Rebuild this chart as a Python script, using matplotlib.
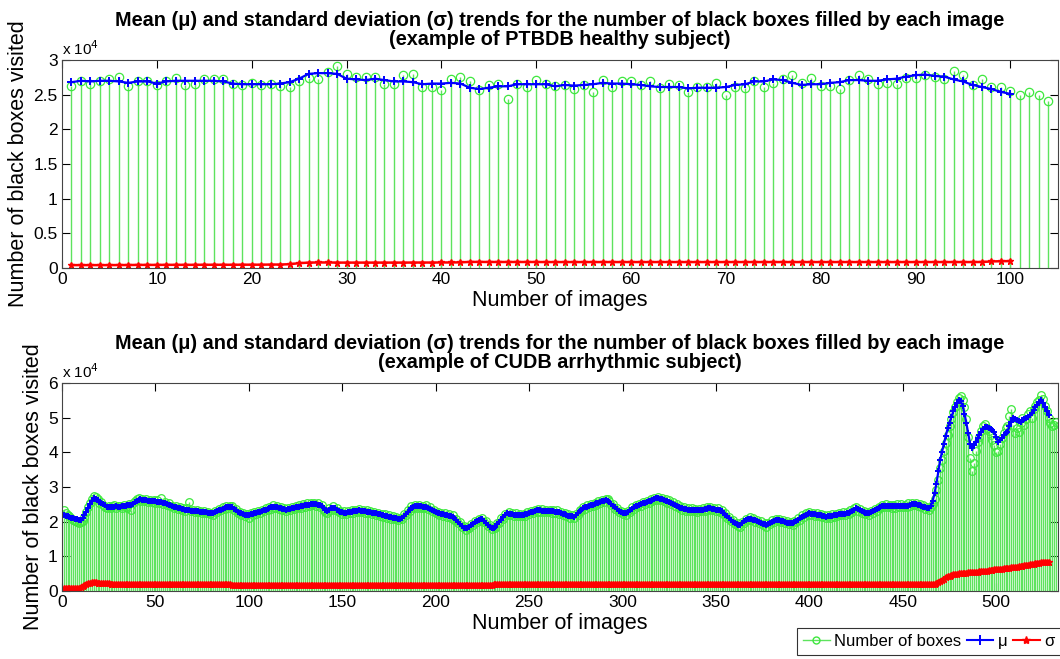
import numpy as np
import matplotlib
matplotlib.use("Agg")
import matplotlib.pyplot as plt
from matplotlib.lines import Line2D

# ==============================
# DATA (values in units of 10^4 boxes)
# ==============================
# PTBDB healthy subject
ptb_boxes = [
    2.62, 2.69, 2.65, 2.69, 2.73, 2.75, 2.62, 2.69, 2.69, 2.64,
    2.69, 2.74, 2.64, 2.65, 2.73, 2.73, 2.73, 2.65, 2.64, 2.67,
    2.64, 2.66, 2.63, 2.61, 2.69, 2.74, 2.72, 2.82, 2.91, 2.80,
    2.76, 2.76, 2.76, 2.66, 2.65, 2.78, 2.80, 2.61, 2.61, 2.57,
    2.73, 2.75, 2.69, 2.57, 2.64, 2.65, 2.44, 2.65, 2.61, 2.71,
    2.66, 2.63, 2.64, 2.58, 2.64, 2.54, 2.71, 2.61, 2.69, 2.69,
    2.64, 2.69, 2.59, 2.66, 2.64, 2.54, 2.61, 2.61, 2.67, 2.50,
    2.61, 2.60, 2.69, 2.61, 2.67, 2.72, 2.79, 2.67, 2.74, 2.62,
    2.62, 2.58, 2.71, 2.78, 2.72, 2.66, 2.67, 2.66, 2.74, 2.74,
    2.78, 2.76, 2.73, 2.84, 2.78, 2.64, 2.72, 2.61, 2.61, 2.55,
    2.49, 2.54, 2.50, 2.41,
]
ptb_mu = [
    2.68, 2.70, 2.69, 2.70, 2.70, 2.69, 2.67, 2.69, 2.69, 2.66,
    2.69, 2.70, 2.70, 2.70, 2.70, 2.70, 2.69, 2.66, 2.65, 2.65,
    2.65, 2.65, 2.66, 2.68, 2.73, 2.80, 2.81, 2.81, 2.80, 2.73,
    2.72, 2.71, 2.73, 2.71, 2.69, 2.69, 2.68, 2.65, 2.66, 2.66,
    2.67, 2.66, 2.60, 2.58, 2.60, 2.62, 2.62, 2.65, 2.65, 2.65,
    2.65, 2.62, 2.64, 2.63, 2.64, 2.65, 2.67, 2.66, 2.66, 2.65,
    2.64, 2.62, 2.61, 2.61, 2.61, 2.59, 2.60, 2.60, 2.60, 2.61,
    2.64, 2.65, 2.69, 2.69, 2.72, 2.71, 2.67, 2.64, 2.65, 2.65,
    2.67, 2.68, 2.71, 2.71, 2.70, 2.70, 2.72, 2.73, 2.76, 2.78,
    2.79, 2.77, 2.76, 2.72, 2.69, 2.64, 2.61, 2.58, 2.54, 2.51,
]
ptb_sigma = [
    0.042, 0.042, 0.042, 0.042, 0.042, 0.043, 0.043, 0.045, 0.045, 0.045,
    0.046, 0.046, 0.046, 0.046, 0.047, 0.047, 0.047, 0.047, 0.048, 0.048,
    0.048, 0.050, 0.050, 0.055, 0.070, 0.078, 0.080, 0.080, 0.078, 0.078,
    0.078, 0.078, 0.078, 0.078, 0.078, 0.078, 0.079, 0.079, 0.079, 0.080,
    0.080, 0.082, 0.088, 0.088, 0.087, 0.087, 0.087, 0.087, 0.087, 0.087,
    0.086, 0.086, 0.086, 0.086, 0.086, 0.086, 0.086, 0.086, 0.086, 0.086,
    0.086, 0.086, 0.086, 0.086, 0.086, 0.086, 0.086, 0.086, 0.086, 0.086,
    0.086, 0.086, 0.086, 0.086, 0.086, 0.086, 0.086, 0.086, 0.086, 0.086,
    0.086, 0.086, 0.086, 0.086, 0.086, 0.086, 0.086, 0.086, 0.086, 0.086,
    0.086, 0.086, 0.086, 0.086, 0.086, 0.086, 0.087, 0.095, 0.098, 0.100,
]

# CUDB arrhythmic subject
cudb_boxes = [
    2.33, 2.24, 2.18, 2.16, 2.10, 2.06, 2.03, 1.99, 1.97, 1.98,
    2.02, 2.14, 2.27, 2.42, 2.55, 2.66, 2.73, 2.70, 2.64, 2.55,
    2.57, 2.47, 2.41, 2.38, 2.45, 2.40, 2.46, 2.49, 2.40, 2.45,
    2.46, 2.40, 2.48, 2.43, 2.38, 2.52, 2.33, 2.55, 2.60, 2.66,
    2.68, 2.61, 2.66, 2.59, 2.64, 2.57, 2.62, 2.56, 2.63, 2.55,
    2.62, 2.54, 2.67, 2.52, 2.56, 2.48, 2.53, 2.44, 2.46, 2.40,
    2.45, 2.36, 2.41, 2.35, 2.39, 2.32, 2.38, 2.57, 2.30, 2.34,
    2.28, 2.33, 2.27, 2.31, 2.25, 2.30, 2.24, 2.28, 2.21, 2.26,
    2.20, 2.30, 2.27, 2.37, 2.33, 2.41, 2.36, 2.45, 2.40, 2.46,
    2.44, 2.33, 2.36, 2.25, 2.29, 2.20, 2.25, 2.16, 2.21, 2.12,
    2.24, 2.19, 2.27, 2.22, 2.31, 2.25, 2.34, 2.30, 2.38, 2.33,
    2.43, 2.37, 2.48, 2.39, 2.45, 2.36, 2.43, 2.33, 2.40, 2.31,
    2.39, 2.33, 2.42, 2.36, 2.45, 2.38, 2.47, 2.40, 2.50, 2.43,
    2.53, 2.45, 2.55, 2.47, 2.54, 2.46, 2.53, 2.42, 2.48, 2.34,
    2.28, 2.25, 2.38, 2.34, 2.44, 2.33, 2.39, 2.28, 2.32, 2.22,
    2.30, 2.22, 2.31, 2.24, 2.33, 2.26, 2.35, 2.27, 2.37, 2.28,
    2.35, 2.26, 2.33, 2.24, 2.31, 2.22, 2.29, 2.20, 2.26, 2.17,
    2.23, 2.14, 2.21, 2.11, 2.18, 2.09, 2.16, 2.07, 2.13, 2.05,
    2.12, 2.08, 2.21, 2.19, 2.33, 2.31, 2.44, 2.39, 2.48, 2.40,
    2.47, 2.40, 2.46, 2.39, 2.47, 2.36, 2.41, 2.30, 2.35, 2.24,
    2.29, 2.20, 2.26, 2.17, 2.24, 2.14, 2.21, 2.11, 2.18, 2.06,
    2.09, 1.96, 1.98, 1.84, 1.87, 1.77, 1.86, 1.82, 1.94, 1.90,
    2.02, 1.98, 2.09, 2.03, 2.11, 1.99, 2.01, 1.87, 1.90, 1.78,
    1.84, 1.81, 1.96, 1.95, 2.10, 2.09, 2.23, 2.20, 2.27, 2.18,
    2.25, 2.16, 2.24, 2.15, 2.23, 2.15, 2.23, 2.17, 2.27, 2.21,
    2.31, 2.25, 2.35, 2.29, 2.37, 2.29, 2.36, 2.28, 2.35, 2.27,
    2.34, 2.26, 2.34, 2.25, 2.33, 2.23, 2.29, 2.19, 2.25, 2.15,
    2.21, 2.12, 2.19, 2.10, 2.22, 2.20, 2.34, 2.31, 2.43, 2.37,
    2.47, 2.41, 2.51, 2.45, 2.55, 2.49, 2.59, 2.53, 2.63, 2.57,
    2.66, 2.64, 2.60, 2.47, 2.50, 2.37, 2.40, 2.27, 2.31, 2.21,
    2.28, 2.20, 2.32, 2.29, 2.41, 2.37, 2.48, 2.42, 2.52, 2.46,
    2.57, 2.51, 2.61, 2.55, 2.65, 2.59, 2.69, 2.63, 2.71, 2.62,
    2.69, 2.59, 2.65, 2.55, 2.62, 2.51, 2.56, 2.45, 2.50, 2.39,
    2.44, 2.34, 2.41, 2.32, 2.39, 2.31, 2.38, 2.30, 2.37, 2.29,
    2.37, 2.30, 2.39, 2.32, 2.41, 2.34, 2.42, 2.33, 2.40, 2.31,
    2.38, 2.29, 2.34, 2.21, 2.24, 2.11, 2.14, 2.01, 2.04, 1.92,
    1.97, 1.87, 1.86, 1.99, 1.97, 2.09, 2.04, 2.13, 2.04, 2.10,
    2.00, 2.06, 1.96, 2.01, 1.90, 1.96, 1.86, 1.97, 1.93, 2.04,
    1.98, 2.08, 2.01, 2.09, 1.99, 2.05, 1.95, 2.01, 1.92, 1.99,
    1.91, 2.02, 1.98, 2.10, 2.06, 2.18, 2.13, 2.24, 2.18, 2.28,
    2.19, 2.26, 2.17, 2.24, 2.15, 2.22, 2.13, 2.20, 2.10, 2.19,
    2.12, 2.21, 2.14, 2.23, 2.16, 2.25, 2.18, 2.27, 2.19, 2.28,
    2.22, 2.33, 2.28, 2.39, 2.42, 2.32, 2.37, 2.26, 2.31, 2.21,
    2.28, 2.20, 2.31, 2.26, 2.37, 2.32, 2.43, 2.38, 2.48, 2.41,
    2.52, 2.41, 2.49, 2.40, 2.48, 2.40, 2.52, 2.41, 2.50, 2.41,
    2.49, 2.41, 2.53, 2.44, 2.54, 2.47, 2.55, 2.45, 2.51, 2.41,
    2.47, 2.37, 2.43, 2.34, 2.41, 2.52, 2.66, 2.90, 3.20, 3.55,
    3.78, 4.05, 4.28, 4.50, 4.75, 4.95, 5.15, 5.30, 5.45, 5.58,
    5.62, 5.50, 5.30, 4.95, 4.45, 3.85, 3.45, 3.70, 4.05, 4.30,
    4.45, 4.62, 4.75, 4.82, 4.70, 4.62, 4.50, 4.35, 4.20, 4.00,
    4.05, 4.25, 4.40, 4.55, 4.70, 4.75, 5.05, 5.25, 4.80, 4.55,
    4.70, 4.60, 4.85, 5.00, 4.80, 4.95, 5.10, 5.20, 5.00, 5.25,
    5.35, 5.45, 5.50, 5.65, 5.55, 5.35, 5.20, 5.00, 4.85, 4.75,
    4.80, 4.88,
]
cudb_mu = [
    2.19, 2.17, 2.15, 2.14, 2.12, 2.10, 2.09, 2.07, 2.05, 2.04,
    2.10, 2.18, 2.29, 2.40, 2.50, 2.60, 2.67, 2.66, 2.62, 2.58,
    2.55, 2.51, 2.47, 2.43, 2.42, 2.42, 2.43, 2.43, 2.44, 2.43,
    2.43, 2.44, 2.45, 2.46, 2.47, 2.47, 2.48, 2.52, 2.56, 2.60,
    2.63, 2.64, 2.63, 2.62, 2.62, 2.61, 2.60, 2.60, 2.59, 2.59,
    2.58, 2.58, 2.57, 2.55, 2.53, 2.51, 2.49, 2.47, 2.45, 2.43,
    2.42, 2.40, 2.39, 2.37, 2.36, 2.35, 2.33, 2.33, 2.32, 2.31,
    2.31, 2.30, 2.30, 2.29, 2.28, 2.27, 2.27, 2.26, 2.25, 2.24,
    2.24, 2.27, 2.30, 2.33, 2.35, 2.37, 2.39, 2.41, 2.42, 2.43,
    2.41, 2.37, 2.33, 2.29, 2.26, 2.24, 2.22, 2.20, 2.19, 2.20,
    2.21, 2.23, 2.24, 2.26, 2.27, 2.29, 2.31, 2.33, 2.35, 2.37,
    2.39, 2.41, 2.43, 2.42, 2.41, 2.40, 2.39, 2.37, 2.36, 2.35,
    2.36, 2.37, 2.38, 2.40, 2.41, 2.42, 2.43, 2.44, 2.46, 2.47,
    2.48, 2.49, 2.50, 2.51, 2.51, 2.50, 2.49, 2.48, 2.44, 2.39,
    2.33, 2.30, 2.34, 2.38, 2.40, 2.38, 2.35, 2.32, 2.29, 2.27,
    2.26, 2.26, 2.27, 2.28, 2.29, 2.30, 2.31, 2.32, 2.33, 2.32,
    2.31, 2.30, 2.29, 2.28, 2.27, 2.26, 2.25, 2.24, 2.22, 2.21,
    2.19, 2.18, 2.17, 2.15, 2.14, 2.13, 2.12, 2.11, 2.10, 2.09,
    2.09, 2.12, 2.17, 2.23, 2.29, 2.35, 2.40, 2.43, 2.44, 2.44,
    2.44, 2.44, 2.43, 2.43, 2.43, 2.40, 2.37, 2.34, 2.31, 2.28,
    2.25, 2.24, 2.22, 2.21, 2.20, 2.18, 2.17, 2.15, 2.14, 2.10,
    2.05, 2.00, 1.94, 1.88, 1.83, 1.81, 1.83, 1.86, 1.90, 1.94,
    1.98, 2.02, 2.05, 2.07, 2.07, 2.03, 1.97, 1.91, 1.86, 1.82,
    1.81, 1.85, 1.92, 1.99, 2.06, 2.13, 2.19, 2.24, 2.23, 2.22,
    2.21, 2.20, 2.20, 2.19, 2.19, 2.19, 2.19, 2.21, 2.23, 2.25,
    2.27, 2.29, 2.31, 2.33, 2.33, 2.33, 2.32, 2.32, 2.31, 2.31,
    2.30, 2.30, 2.30, 2.29, 2.29, 2.27, 2.25, 2.23, 2.21, 2.19,
    2.17, 2.16, 2.15, 2.14, 2.18, 2.24, 2.30, 2.35, 2.39, 2.41,
    2.43, 2.45, 2.47, 2.49, 2.51, 2.53, 2.55, 2.57, 2.59, 2.61,
    2.62, 2.60, 2.56, 2.51, 2.46, 2.41, 2.36, 2.31, 2.27, 2.25,
    2.24, 2.24, 2.28, 2.33, 2.37, 2.41, 2.44, 2.46, 2.48, 2.50,
    2.53, 2.55, 2.57, 2.59, 2.61, 2.63, 2.65, 2.67, 2.67, 2.66,
    2.65, 2.63, 2.61, 2.59, 2.58, 2.55, 2.52, 2.49, 2.46, 2.43,
    2.40, 2.38, 2.37, 2.36, 2.35, 2.35, 2.34, 2.34, 2.33, 2.33,
    2.33, 2.34, 2.35, 2.36, 2.37, 2.38, 2.38, 2.37, 2.36, 2.35,
    2.34, 2.33, 2.30, 2.25, 2.20, 2.15, 2.10, 2.05, 2.00, 1.96,
    1.93, 1.91, 1.90, 1.95, 2.01, 2.05, 2.08, 2.09, 2.08, 2.06,
    2.04, 2.02, 2.00, 1.97, 1.94, 1.92, 1.90, 1.93, 1.97, 2.00,
    2.02, 2.04, 2.05, 2.05, 2.03, 2.01, 1.99, 1.97, 1.96, 1.95,
    1.95, 1.98, 2.02, 2.06, 2.10, 2.14, 2.17, 2.20, 2.22, 2.24,
    2.23, 2.22, 2.21, 2.20, 2.19, 2.18, 2.17, 2.16, 2.14, 2.15,
    2.16, 2.17, 2.18, 2.19, 2.20, 2.21, 2.22, 2.23, 2.23, 2.24,
    2.26, 2.29, 2.32, 2.35, 2.38, 2.36, 2.33, 2.30, 2.27, 2.25,
    2.24, 2.24, 2.27, 2.30, 2.33, 2.36, 2.39, 2.42, 2.44, 2.45,
    2.45, 2.45, 2.45, 2.44, 2.44, 2.44, 2.45, 2.45, 2.46, 2.45,
    2.45, 2.45, 2.46, 2.48, 2.50, 2.51, 2.51, 2.49, 2.47, 2.45,
    2.43, 2.41, 2.39, 2.38, 2.45, 2.60, 2.82, 3.10, 3.45, 3.78,
    4.02, 4.25, 4.47, 4.69, 4.86, 5.02, 5.18, 5.32, 5.42, 5.51,
    5.48, 5.35, 5.12, 4.85, 4.55, 4.25, 4.12, 4.20, 4.30, 4.40,
    4.50, 4.60, 4.68, 4.74, 4.72, 4.70, 4.67, 4.63, 4.59, 4.45,
    4.31, 4.36, 4.42, 4.50, 4.56, 4.59, 4.75, 4.88, 4.98, 4.96,
    4.93, 4.90, 4.88, 4.92, 4.97, 5.00, 5.03, 5.07, 5.14, 5.22,
    5.30, 5.38, 5.45, 5.51, 5.42, 5.30, 5.18, 5.07,
]
cudb_sigma = [
    0.08, 0.08, 0.08, 0.08, 0.08, 0.08, 0.08, 0.09, 0.10, 0.12,
    0.14, 0.17, 0.20, 0.22, 0.24, 0.25, 0.25, 0.25, 0.24, 0.24,
    0.23, 0.23, 0.22, 0.22, 0.22, 0.21, 0.21, 0.21, 0.21, 0.21,
    0.20, 0.20, 0.20, 0.20, 0.20, 0.20, 0.20, 0.20, 0.20, 0.20,
    0.20, 0.20, 0.20, 0.20, 0.20, 0.20, 0.20, 0.20, 0.20, 0.20,
    0.20, 0.20, 0.20, 0.20, 0.20, 0.20, 0.20, 0.20, 0.19, 0.19,
    0.19, 0.19, 0.19, 0.19, 0.19, 0.19, 0.19, 0.19, 0.19, 0.19,
    0.19, 0.19, 0.19, 0.19, 0.19, 0.19, 0.19, 0.19, 0.19, 0.19,
    0.19, 0.19, 0.19, 0.19, 0.19, 0.19, 0.19, 0.19, 0.19, 0.19,
    0.18, 0.18, 0.18, 0.18, 0.18, 0.18, 0.18, 0.18, 0.18, 0.18,
    0.18, 0.18, 0.18, 0.18, 0.18, 0.18, 0.18, 0.18, 0.18, 0.18,
    0.17, 0.17, 0.17, 0.17, 0.17, 0.17, 0.17, 0.17, 0.17, 0.17,
    0.17, 0.17, 0.17, 0.17, 0.17, 0.17, 0.17, 0.17, 0.17, 0.17,
    0.17, 0.17, 0.17, 0.17, 0.17, 0.17, 0.17, 0.17, 0.17, 0.17,
    0.17, 0.17, 0.17, 0.17, 0.17, 0.17, 0.17, 0.17, 0.17, 0.17,
    0.16, 0.16, 0.16, 0.16, 0.16, 0.16, 0.16, 0.16, 0.16, 0.16,
    0.16, 0.16, 0.16, 0.16, 0.16, 0.16, 0.16, 0.16, 0.16, 0.16,
    0.16, 0.16, 0.16, 0.16, 0.16, 0.16, 0.16, 0.16, 0.16, 0.16,
    0.16, 0.16, 0.16, 0.16, 0.16, 0.16, 0.16, 0.16, 0.16, 0.16,
    0.16, 0.16, 0.16, 0.16, 0.16, 0.16, 0.16, 0.16, 0.16, 0.16,
    0.16, 0.16, 0.16, 0.16, 0.16, 0.16, 0.16, 0.16, 0.16, 0.16,
    0.17, 0.17, 0.17, 0.17, 0.17, 0.18, 0.18, 0.18, 0.18, 0.18,
    0.18, 0.18, 0.18, 0.18, 0.18, 0.18, 0.18, 0.18, 0.18, 0.18,
    0.19, 0.19, 0.19, 0.19, 0.19, 0.19, 0.19, 0.19, 0.19, 0.19,
    0.19, 0.19, 0.19, 0.19, 0.19, 0.19, 0.19, 0.19, 0.19, 0.19,
    0.19, 0.19, 0.19, 0.19, 0.19, 0.19, 0.19, 0.19, 0.19, 0.19,
    0.19, 0.19, 0.19, 0.19, 0.19, 0.19, 0.19, 0.19, 0.19, 0.19,
    0.19, 0.19, 0.19, 0.19, 0.19, 0.19, 0.19, 0.19, 0.19, 0.19,
    0.19, 0.19, 0.19, 0.19, 0.19, 0.19, 0.19, 0.19, 0.19, 0.19,
    0.19, 0.19, 0.19, 0.19, 0.19, 0.19, 0.19, 0.19, 0.19, 0.19,
    0.19, 0.19, 0.19, 0.19, 0.19, 0.19, 0.19, 0.19, 0.19, 0.19,
    0.19, 0.19, 0.19, 0.19, 0.19, 0.19, 0.19, 0.19, 0.19, 0.19,
    0.19, 0.19, 0.19, 0.19, 0.19, 0.19, 0.19, 0.19, 0.19, 0.19,
    0.19, 0.19, 0.19, 0.19, 0.19, 0.19, 0.19, 0.19, 0.19, 0.19,
    0.19, 0.19, 0.19, 0.19, 0.19, 0.19, 0.19, 0.19, 0.19, 0.19,
    0.19, 0.19, 0.19, 0.19, 0.19, 0.19, 0.19, 0.19, 0.19, 0.19,
    0.19, 0.19, 0.19, 0.19, 0.19, 0.19, 0.19, 0.19, 0.19, 0.19,
    0.19, 0.19, 0.19, 0.19, 0.19, 0.19, 0.19, 0.19, 0.20, 0.20,
    0.20, 0.20, 0.20, 0.20, 0.20, 0.20, 0.20, 0.20, 0.20, 0.20,
    0.20, 0.20, 0.20, 0.20, 0.19, 0.19, 0.19, 0.19, 0.19, 0.19,
    0.19, 0.19, 0.19, 0.19, 0.19, 0.19, 0.19, 0.19, 0.19, 0.19,
    0.19, 0.19, 0.19, 0.19, 0.19, 0.19, 0.19, 0.19, 0.19, 0.19,
    0.19, 0.19, 0.19, 0.19, 0.19, 0.19, 0.19, 0.19, 0.19, 0.19,
    0.19, 0.19, 0.19, 0.19, 0.19, 0.19, 0.19, 0.19, 0.19, 0.19,
    0.19, 0.19, 0.19, 0.19, 0.19, 0.19, 0.19, 0.19, 0.19, 0.19,
    0.19, 0.19, 0.19, 0.19, 0.19, 0.19, 0.19, 0.19, 0.19, 0.19,
    0.19, 0.19, 0.19, 0.19, 0.19, 0.20, 0.21, 0.23, 0.26, 0.29,
    0.33, 0.36, 0.39, 0.42, 0.44, 0.46, 0.48, 0.49, 0.50, 0.51,
    0.52, 0.52, 0.53, 0.53, 0.54, 0.54, 0.55, 0.55, 0.56, 0.56,
    0.57, 0.58, 0.58, 0.59, 0.59, 0.60, 0.61, 0.61, 0.62, 0.62,
    0.63, 0.64, 0.64, 0.65, 0.66, 0.66, 0.67, 0.68, 0.68, 0.69,
    0.70, 0.71, 0.72, 0.73, 0.74, 0.75, 0.76, 0.77, 0.78, 0.79,
    0.80, 0.81, 0.82, 0.83, 0.83, 0.84, 0.84, 0.85,
]

panels = [
    ("(example of PTBDB healthy subject)", ptb_boxes, ptb_mu, ptb_sigma,
     105, np.arange(0, 101, 10), np.arange(0, 3.01, 0.5), 3),
    ("(example of CUDB arrhythmic subject)", cudb_boxes, cudb_mu, cudb_sigma,
     533, np.arange(0, 501, 50), np.arange(0, 7, 1), 6),
]

# ==============================
# STYLE
# ==============================
GREEN_STEM = "#5ee35e"
GREEN_MK = "#3ee83e"
BLUE = "#0000ff"
RED = "#ff0000"
plt.rcParams["font.family"] = ["Liberation Sans", "DejaVu Sans"]

fig = plt.figure(figsize=(10.6, 6.59), dpi=100)
axes_rects = [
    [0.0585, 0.5933, 0.9395, 0.3157],
    [0.0585, 0.1032, 0.9395, 0.3156],
]

for rect, (sub, boxes, mu, sigma, xmax, xt, yt, ymax) in zip(axes_rects, panels):
    ax = fig.add_axes(rect)
    xb = np.arange(1, len(boxes) + 1)
    xm = np.arange(1, len(mu) + 1)
    xs = np.arange(1, len(sigma) + 1)
    dense = len(boxes) > 200

    stems = ax.stem(xb, boxes, basefmt=" ")
    stems.stemlines.set_color(GREEN_STEM)
    stems.stemlines.set_linewidth(1.0)
    stems.markerline.set_marker("o")
    stems.markerline.set_markerfacecolor("none")
    stems.markerline.set_markeredgecolor(GREEN_MK)
    stems.markerline.set_markersize(5.5 if dense else 6)
    stems.markerline.set_markeredgewidth(0.9)

    ax.plot(xm, mu, color=BLUE, lw=1.6, marker="+", ms=6 if not dense else 5, mew=1.4)
    ax.plot(xs, sigma, color=RED, lw=1.8, marker="*", ms=5 if not dense else 4.5, mew=1.0)

    ax.set_xlim(0, xmax)
    ax.set_ylim(0, ymax)
    ax.set_xticks(xt)
    ax.set_yticks(yt)
    ax.set_yticklabels([("%g" % v) for v in yt])
    ax.tick_params(direction="in", length=6, width=0.8, labelsize=12.5,
                   top=True, right=True, pad=3)
    for s in ax.spines.values():
        s.set_color("#444444")
        s.set_linewidth(0.8)

    ax.set_xlabel("Number of images", fontsize=15.5, labelpad=2)
    ax.set_ylabel("Number of black boxes visited", fontsize=15.5, labelpad=3)
    ax.text(0.0, 1.01, r"x 10$^4$", transform=ax.transAxes, fontsize=11,
            ha="left", va="bottom")
    ax.set_title("Mean (\u03bc) and standard deviation (\u03c3) trends for the number "
                 "of black boxes filled by each image\n" + sub,
                 fontsize=14.3, fontweight="bold", linespacing=1.0, pad=11)

handles = [
    Line2D([], [], color=GREEN_STEM, lw=1, marker="o", mfc="none", mec=GREEN_MK, ms=5),
    Line2D([], [], color=BLUE, lw=1.5, marker="+", ms=7, mew=1.4),
    Line2D([], [], color=RED, lw=1.5, marker="*", ms=6),
]
leg = fig.legend(handles, ["Number of boxes", "\u03bc", "\u03c3"], ncol=3,
                 loc="lower left", bbox_to_anchor=(797 / 1060, 1 - 655 / 659),
                 borderaxespad=0, fontsize=12, frameon=True, fancybox=False,
                 edgecolor="black", handlelength=1.6, handletextpad=0.3,
                 columnspacing=0.3, borderpad=0.35, numpoints=1)
leg.get_frame().set_linewidth(0.8)

fig.savefig("out.png", dpi=100)
